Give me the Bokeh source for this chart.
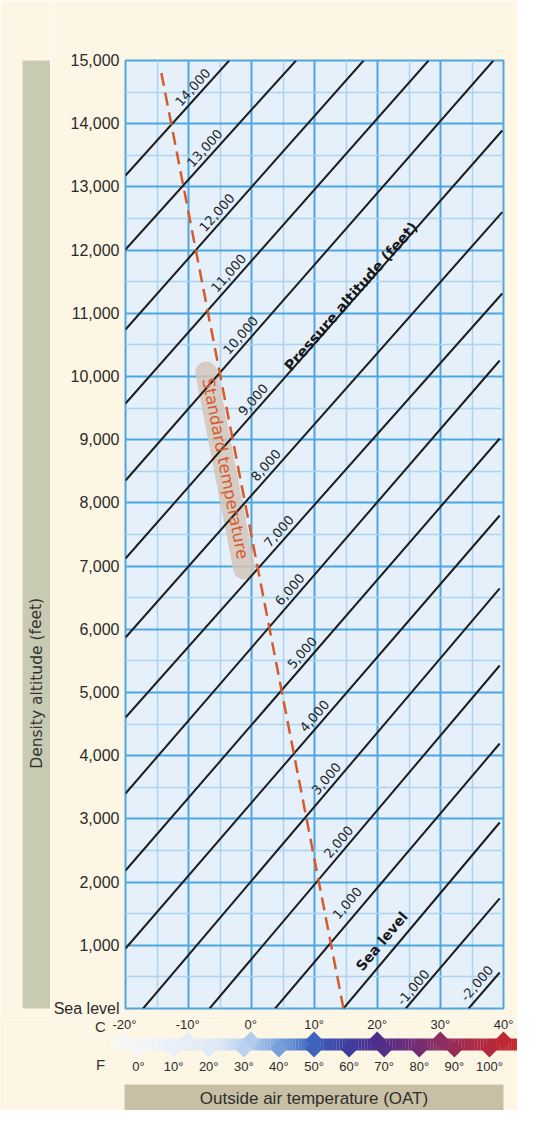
import math
import numpy as np
from bokeh.plotting import figure
from bokeh.layouts import row, column
from bokeh.models import Range1d, FixedTicker
from bokeh.core.properties import value
from bokeh.embed import file_html
from bokeh.resources import INLINE

# ---------------- data ----------------
y_tick_values = [0, 1000, 2000, 3000, 4000, 5000, 6000, 7000, 8000, 9000, 10000,
                 11000, 12000, 13000, 14000, 15000]
y_tick_labels = ["Sea level", "1,000", "2,000", "3,000", "4,000", "5,000", "6,000", "7,000",
                 "8,000", "9,000", "10,000", "11,000", "12,000", "13,000", "14,000", "15,000"]

c_ticks = [-20, -10, 0, 10, 20, 30, 40]
c_labels = ["-20°", "-10°", "0°", "10°", "20°", "30°", "40°"]
f_ticks = [0, 10, 20, 30, 40, 50, 60, 70, 80, 90, 100]
f_labels = ["0°", "10°", "20°", "30°", "40°", "50°", "60°", "70°", "80°", "90°", "100°"]

# pressure altitude lines (start / end points)
pa_labels = ["14,000", "13,000", "12,000", "11,000", "10,000", "9,000", "8,000", "7,000",
             "6,000", "5,000", "4,000", "3,000", "2,000", "1,000", "Sea level", "-1,000", "-2,000"]
line_t_start = [-20, -20, -20, -20, -20, -20, -20, -20, -20, -20, -20,
                -17.2, -6.65, 3.75, 14.6, 24.48, 34.46]
line_da_start = [13180, 12010, 10744, 9573, 8354, 7120, 5870, 4604, 3402, 2184, 949,
                 0, 0, 0, 0, 0, 0]
line_t_end = [-3.54, 7.07, 17.8, 28.1, 38.4, 39.8, 39.8, 39.8, 39.4, 39.4, 39.4,
              39.4, 39.4, 39.4, 39.4, 39.4, 39.4]
line_da_end = [15000, 15000, 15000, 15000, 15000, 13892, 12600, 11313, 10253, 9019, 7801,
               6646, 5427, 4193, 2943, 1741, 570]

# standard temperature line
std_temp = [14.6, -14.5]
std_alt = [0, 14900]

# ---------------- style ----------------
CREAM = "#fdf6e4"
GRID_MAJOR = "#4ea6e0"
GRID_MINOR = "#acd3f0"
PLOT_BG = "#e5f0fa"
ORANGE = "#d65a2c"
TXT = "#2b2b2b"
FONT = "Liberation Sans"
WIDE = "DejaVu Sans"

FRAME_W, FRAME_H = 379, 948
PX_C = FRAME_W / 60.0
PX_FT = FRAME_H / 15000.0
TOP = 60          # frame top
LEFT_W = 50       # width of the left title band figure
FRAME_L = 124     # frame left edge (page coords)
TOTAL_W = 517
MAIN_H = 1016


def to_px(t, da):
    return ((t + 20) * PX_C, da * PX_FT)


def from_px(X, Y):
    return (X / PX_C - 20, Y / PX_FT)


def page_to_data(xp, yp):
    return from_px(xp - FRAME_L, (TOP + FRAME_H) - yp)


# ---------------- main chart ----------------
main_w = TOTAL_W - LEFT_W
p = figure(width=main_w, height=MAIN_H, x_range=Range1d(-20, 40), y_range=Range1d(0, 15000),
           output_backend="svg", toolbar_location=None, x_axis_location=None,
           min_border_left=FRAME_L - LEFT_W, min_border_right=main_w - (FRAME_L - LEFT_W) - FRAME_W,
           min_border_top=TOP, min_border_bottom=MAIN_H - TOP - FRAME_H,
           background_fill_color=PLOT_BG, border_fill_color=CREAM,
           outline_line_color=GRID_MAJOR, outline_line_width=2)

p.xgrid.ticker = FixedTicker(ticks=c_ticks, minor_ticks=[-15, -5, 5, 15, 25, 35])
p.ygrid.ticker = FixedTicker(ticks=y_tick_values,
                             minor_ticks=[v + 500 for v in y_tick_values[:-1]])
for g in (p.xgrid, p.ygrid):
    g.grid_line_color = GRID_MAJOR
    g.grid_line_width = 2
    g.minor_grid_line_color = GRID_MINOR
    g.minor_grid_line_width = 1.5

ax = p.yaxis[0]
ax.ticker = FixedTicker(ticks=y_tick_values)
ax.major_label_overrides = {v: l for v, l in zip(y_tick_values, y_tick_labels)}
ax.axis_line_color = None
ax.major_tick_line_color = None
ax.minor_tick_line_color = None
ax.major_tick_out = 0
ax.major_tick_in = 0
ax.minor_tick_out = 0
ax.minor_tick_in = 0
ax.major_label_standoff = 6
ax.major_label_text_font = FONT
ax.major_label_text_font_size = "16px"
ax.major_label_text_color = TXT

# band behind "Standard temperature"
bx0, by0 = page_to_data(205, 372)
bx1, by1 = page_to_data(243, 568)
p.line([bx0, bx1], [by0, by1], line_width=22, line_cap="round",
       line_color="#d3c5b8", line_alpha=0.85)

# pressure altitude lines
p.segment(x0=line_t_start, y0=line_da_start, x1=line_t_end, y1=line_da_end,
          line_color="#1c1c1c", line_width=2)

# standard temperature dashed line
p.line(std_temp, std_alt, line_color=ORANGE, line_width=2.5, line_dash="13 7")

# label positions along each pressure line
s0 = np.array(to_px(std_temp[0], std_alt[0]))
s1 = np.array(to_px(std_temp[1], std_alt[1]))
along = [42] * 13 + [41, 76, 21, 24.5]
perp = [9] * 13 + [13, 14, 8, 10]
lx, ly, lang = [], [], []
for i in range(len(pa_labels)):
    a = np.array(to_px(line_t_start[i], line_da_start[i]))
    b = np.array(to_px(line_t_end[i], line_da_end[i]))
    d = b - a
    u = d / np.linalg.norm(d)
    n = np.array([-u[1], u[0]])
    if i < 14:
        M = np.array([d, -(s1 - s0)]).T
        t, _ = np.linalg.solve(M, s0 - a)
        anchor = a + t * d
    else:
        anchor = a
    pt = anchor + along[i] * u + perp[i] * n
    tx, ty = from_px(pt[0], pt[1])
    lx.append(tx)
    ly.append(ty)
    lang.append(math.atan2(u[1], u[0]))

p.text(x=lx[:14] + lx[15:], y=ly[:14] + ly[15:], text=pa_labels[:14] + pa_labels[15:],
       angle=lang[:14] + lang[15:], text_align="center", text_baseline="middle",
       text_font=value(WIDE), text_font_size=value("13px"), text_color="#262626")
p.text(x=[lx[14]], y=[ly[14]], text=[pa_labels[14]], angle=[lang[14]],
       text_align="center", text_baseline="middle", text_font=value(WIDE),
       text_font_size=value("14px"), text_font_style="bold", text_color="#1a1a1a")

# "Pressure altitude (feet)"
a9 = np.array(to_px(line_t_start[5], line_da_start[5]))
b9 = np.array(to_px(line_t_end[5], line_da_end[5]))
u9 = (b9 - a9) / np.linalg.norm(b9 - a9)
px_, py_ = page_to_data(350, 296)
p.text(x=[px_], y=[py_], text=["Pressure altitude (feet)"], angle=[math.atan2(u9[1], u9[0])],
       text_align="center", text_baseline="middle", text_font=value(WIDE),
       text_font_size=value("14.5px"), text_font_style="bold", text_color="#1a1a1a")

# "Standard temperature"
st_ang = math.atan2(-(s1 - s0)[1], -(s1 - s0)[0])
stx, sty = page_to_data(224, 468)
p.text(x=[stx], y=[sty], text=["Standard temperature"], angle=[st_ang],
       text_align="center", text_baseline="middle", text_font=value(WIDE),
       text_font_size=value("16.5px"), text_color=ORANGE)

# ---------------- left band with axis title ----------------
left = figure(width=LEFT_W, height=MAIN_H, x_range=Range1d(0, 1), y_range=Range1d(0, 1),
              output_backend="svg", toolbar_location=None,
              x_axis_location=None, y_axis_location=None,
              min_border_left=22, min_border_right=0, min_border_top=TOP,
              min_border_bottom=MAIN_H - TOP - FRAME_H,
              background_fill_color="#c9cab2", border_fill_color=CREAM,
              outline_line_color=None)
left.xgrid.visible = False
left.ygrid.visible = False
left.text(x=[0.5], y=[0.343], text=["Density altitude (feet)"], angle=[math.pi / 2],
          text_align="center", text_baseline="middle", text_font=value(WIDE),
          text_font_size=value("15.5px"), text_color="#333333")

# ---------------- bottom temperature scale ----------------
B_TOP, B_BOT = MAIN_H, 1110
bottom = figure(width=TOTAL_W, height=B_BOT - B_TOP,
                x_range=Range1d(-20 - FRAME_L / PX_C, 40 + (TOTAL_W - FRAME_L - FRAME_W) / PX_C),
                y_range=Range1d(B_BOT, B_TOP),
                output_backend="svg", toolbar_location=None,
                x_axis_location=None, y_axis_location=None, min_border=0,
                background_fill_color=CREAM, border_fill_color=CREAM, outline_line_color=None)
bottom.xgrid.visible = False
bottom.ygrid.visible = False

stops_t = [-22.3, -15, -5, 0, 5, 10, 15, 20, 25, 30, 35, 40, 42.5]
stops_c = ["#fbf8f1", "#eef3fa", "#dce8f7", "#b0ccee", "#6f9bdb", "#3d63bc", "#3e3fa0",
           "#4f2e8b", "#6b2c78", "#8c2d63", "#a92a48", "#be2832", "#c8302e"]
rgb = np.array([[int(c[i:i + 2], 16) for i in (1, 3, 5)] for c in stops_c], float)


def grad(t):
    return "#%02x%02x%02x" % tuple(int(round(np.interp(t, stops_t, rgb[:, k]))) for k in range(3))


edges = np.linspace(-22.2, 42.3, 131)
mids = 0.5 * (edges[:-1] + edges[1:])
bottom.quad(left=edges[:-1], right=edges[1:] + 0.02, top=[1038] * 130, bottom=[1050] * 130,
            color=[grad(m) for m in mids], line_color=None)

f_pos = [(f - 32) * 5.0 / 9.0 for f in f_ticks]
bottom.scatter(x=c_ticks, y=[1039.5] * len(c_ticks), marker="square", angle=math.pi / 4,
               size=12, color=[grad(c) for c in c_ticks], line_color=None)
bottom.scatter(x=f_pos, y=[1048.5] * len(f_pos), marker="square", angle=math.pi / 4,
               size=12, color=[grad(c) for c in f_pos], line_color=None)

bottom.text(x=c_ticks, y=[1024] * len(c_ticks), text=c_labels, text_align="center",
            text_baseline="middle", text_font=value(FONT), text_font_size=value("13px"),
            text_color=TXT)
bottom.text(x=f_pos, y=[1066] * len(f_pos), text=f_labels, text_align="center",
            text_baseline="middle", text_font=value(FONT), text_font_size=value("13px"),
            text_color=TXT)
bottom.text(x=[-20 - 24 / PX_C, -20 - 24 / PX_C], y=[1026, 1064], text=["C", "F"],
            text_align="center", text_baseline="middle", text_font=value(FONT),
            text_font_size=value("15px"), text_color="#333333")

bottom.quad(left=[-20], right=[40], top=[1084], bottom=[1110], color="#c9bfa5", line_color=None)
bottom.text(x=[10], y=[1097.5], text=["Outside air temperature (OAT)"], text_align="center",
            text_baseline="middle", text_font=value(FONT), text_font_size=value("17px"),
            text_color="#2e2e2e")

layout = column(row(left, p), bottom)
open("out.html", "w").write(file_html(layout, INLINE))
